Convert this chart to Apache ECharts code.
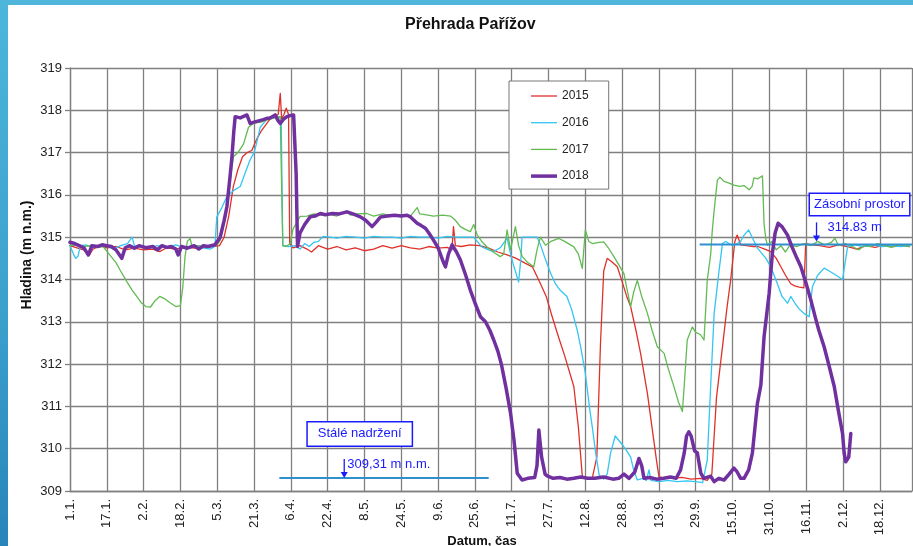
<!DOCTYPE html>
<html>
<head>
<meta charset="utf-8">
<script src="https://cdn.jsdelivr.net/npm/echarts@6/dist/echarts.min.js"></script>
<style>
html,body{margin:0;padding:0;width:913px;height:546px;overflow:hidden;}
body{background:linear-gradient(180deg,#4db6da 0%,#3ba2cd 55%,#2884b9 100%);}
#paper{position:absolute;left:8px;top:5px;width:905px;height:541px;background:#fff;}
#chart{position:absolute;left:0;top:0;width:913px;height:546px;}
</style>
</head>
<body>
<div id="paper"></div>
<div id="chart"></div>
<script>
// ---- data (x = day of year from 1.1., y = water level m n.m.) ----
const tickLabels = ['1.1.','17.1.','2.2.','18.2.','5.3.','21.3.','6.4.','22.4.','8.5.','24.5.','9.6.','25.6.','11.7.','27.7.','12.8.','28.8.','13.9.','29.9.','15.10.','31.10.','16.11.','2.12.','18.12.'];
const years = ['2015','2016','2017','2018'];

const level2015 = [[0,314.8],[3,314.75],[6,314.7],[8.7,314.6],[10,314.72],[13,314.8],[16,314.75],[20,314.78],[24,314.7],[28,314.74],[32,314.7],[36,314.72],[39,314.66],[42,314.75],[46,314.72],[50,314.78],[54,314.74],[58,314.76],[62,314.78],[65,314.8],[67,315.0],[69,315.5],[71,316.2],[73,316.6],[75,316.9],[77,317.0],[79,317.05],[81,317.3],[83,317.5],[85,317.65],[87,317.8],[89,317.85],[90.5,317.9],[91.4,318.4],[92,317.8],[93,317.9],[94,318.05],[95,317.9],[95.5,314.85],[97,314.75],[100,314.8],[103,314.72],[105,314.65],[108,314.8],[112,314.72],[116,314.78],[120,314.7],[124,314.75],[128,314.68],[132,314.72],[136,314.8],[140,314.74],[144,314.8],[148,314.75],[152,314.72],[156,314.78],[160,314.74],[164,314.76],[166,314.7],[166.7,315.25],[167.5,314.8],[170,314.78],[174,314.82],[178,314.8],[182,314.74],[186,314.65],[190,314.58],[194,314.5],[198,314.38],[201,314.3],[204.5,313.9],[207,313.6],[209.6,313.12],[212,312.7],[215,312.2],[219,311.47],[221,310.5],[222.7,309.34],[225,309.3],[227,309.3],[229,309.8],[230.6,312.5],[232,314.2],[233.5,314.5],[235.5,314.42],[237.9,314.3],[240,313.95],[242,313.6],[243.7,313.36],[246,312.8],[248,312.26],[251,311.3],[253,310.5],[255,309.7],[256,309.34],[258,309.3],[262,309.3],[266,309.32],[270,309.28],[274,309.3],[277,309.25],[279,309.4],[281,311.2],[283.6,312.4],[285.5,313.3],[287.2,314.0],[289,314.9],[290,315.05],[291.5,314.82],[294,314.8],[297,314.78],[299,314.78],[302,314.72],[304.6,314.66],[307,314.5],[309,314.3],[311,314.1],[313.3,313.9],[315,313.85],[317,313.82],[319,313.8],[319.8,314.85],[322,314.82],[326,314.8],[330,314.76],[334,314.82],[338,314.78],[342,314.72],[346,314.8],[350,314.76],[354,314.82],[358,314.78],[362,314.8],[364.7,314.78]];

const level2016 = [[0,314.8],[1.5,314.6],[2.5,314.5],[3.5,314.55],[4.5,314.8],[7,314.82],[10,314.75],[13,314.8],[16,314.78],[19,314.72],[22,314.8],[25,314.85],[27,315.0],[28,314.8],[31,314.78],[34,314.74],[38,314.8],[42,314.76],[46,314.82],[50,314.74],[54,314.8],[58,314.74],[61,314.72],[63,314.78],[63.8,315.48],[66,315.7],[68.2,315.96],[71,316.1],[74,316.2],[76,316.5],[78.3,316.83],[80,317.0],[81,317.2],[82.7,317.6],[85,317.75],[87,317.85],[89,317.82],[91,317.85],[91.8,317.75],[92.5,314.8],[95,314.78],[98,314.8],[100,314.72],[102,314.85],[104,314.78],[106,314.88],[108,314.9],[110,315.02],[113,315.0],[116,314.98],[120,315.02],[124,315.0],[128,314.98],[132,315.02],[136,315.0],[140,315.0],[144,314.98],[148,315.02],[152,315.0],[156,315.0],[160,314.98],[164,315.02],[168,315.0],[172,315.0],[175.5,315.0],[177,314.9],[179,314.77],[182,314.7],[184,314.66],[187,314.75],[189,314.9],[190,314.98],[191.5,314.6],[193,314.3],[195,313.94],[196,314.5],[196.5,315.0],[199,315.0],[203,315.0],[204.5,314.82],[206.5,314.5],[208.9,314.15],[211,313.9],[213,313.75],[216,313.6],[218,313.3],[220.5,312.8],[222,312.4],[224,311.78],[226,310.9],[227,310.52],[228.5,309.9],[230,309.38],[232,309.28],[233.5,309.4],[235,309.9],[237,310.3],[240,310.1],[242,309.95],[243.7,309.8],[245,309.5],[246.6,309.26],[249,309.3],[250.5,309.25],[251.7,309.5],[252.5,309.25],[256,309.22],[260,309.25],[264,309.22],[268,309.24],[272,309.22],[275,309.2],[277,309.73],[278.5,311.5],[280,313.2],[282,314.15],[283.6,314.85],[285,314.9],[288,314.8],[290,314.85],[291.5,314.9],[293,315.05],[295,315.17],[296.5,315.0],[298.8,314.74],[301,314.6],[302.5,314.5],[304.6,314.3],[307.5,313.9],[309.5,313.6],[311.9,313.44],[313.3,313.6],[315,313.45],[317,313.3],[319,313.2],[321.3,313.12],[322.7,313.83],[325,314.1],[327.8,314.27],[330,314.2],[333,314.1],[335.8,314.0],[338,314.77],[341,314.82],[345,314.78],[349,314.82],[353,314.78],[357,314.8],[361,314.78],[365,314.8]];

const level2017 = [[0,314.8],[3,314.82],[6,314.78],[9,314.8],[12,314.76],[14.4,314.78],[17,314.6],[20,314.4],[22,314.2],[24.7,313.95],[27,313.75],[29,313.6],[31,313.45],[33,313.36],[35,313.35],[37,313.5],[39,313.6],[41,313.55],[43.5,313.45],[46,313.36],[48,313.38],[49,313.8],[50,314.54],[51,314.9],[52.2,314.97],[53,314.78],[56,314.8],[59,314.76],[62,314.8],[64,314.82],[65.3,314.93],[68,315.56],[70,316.5],[71,316.9],[73,317.0],[75.4,317.2],[77.6,317.6],[80,317.7],[83,317.72],[86,317.78],[89,317.82],[91.4,317.85],[92.5,314.8],[94,314.78],[95.7,314.85],[97,315.2],[100,315.49],[103,315.5],[106,315.55],[109,315.52],[112,315.55],[116,315.5],[120,315.62],[122,315.52],[125,315.55],[129,315.56],[132,315.5],[136,315.55],[140,315.5],[144,315.52],[148,315.5],[150.9,315.7],[152,315.55],[155,315.53],[158,315.5],[162,315.52],[165.4,315.5],[167.5,315.4],[169.7,315.25],[172,315.18],[174,315.13],[175.5,315.3],[177,315.05],[179,314.9],[181.3,314.77],[184,314.65],[187,314.54],[188.5,314.6],[190,315.17],[191.5,314.7],[193.6,315.25],[195,314.8],[196.6,314.54],[199,314.4],[201.6,314.3],[203,314.7],[204.5,315.0],[206.7,314.81],[209,314.9],[212.5,314.97],[215,314.9],[219,314.77],[221,314.6],[222.7,314.26],[224,315.17],[225.5,314.9],[227,314.85],[230,314.88],[232,314.89],[234,314.75],[236.4,314.54],[238.5,314.35],[240.8,314.14],[242,313.8],[243.7,313.36],[245,313.7],[246.6,313.98],[248.5,313.6],[251,313.2],[253,312.8],[255.3,312.41],[258.2,312.26],[260,311.9],[262.5,311.47],[264.5,311.1],[266.2,310.88],[267,311.5],[268.3,312.57],[270.5,312.88],[272,312.75],[274,312.7],[275.6,312.57],[277,313.98],[278.5,314.6],[279.2,315.17],[280.3,315.8],[281.4,316.35],[282.5,316.42],[284.3,316.32],[286.5,316.28],[288.6,316.23],[291,316.2],[293,316.22],[295.2,316.12],[296.5,316.2],[297.3,316.4],[299,316.38],[301,316.45],[301.7,315.3],[302.5,314.95],[303.2,314.81],[305,314.9],[307,314.7],[309,314.8],[311,314.65],[313,314.82],[316,314.78],[319,314.85],[322,314.8],[325,314.9],[328,314.82],[331,314.88],[332.5,314.98],[334,314.8],[337,314.85],[340,314.78],[343,314.7],[345,314.8],[348,314.78],[351,314.85],[354,314.8],[357,314.76],[360,314.82],[363,314.8],[365,314.78]];

const level2018 = [[0,314.88],[2,314.85],[4,314.8],[6,314.75],[8,314.58],[9.5,314.8],[12,314.78],[14,314.82],[16,314.8],[18,314.78],[20,314.7],[22.5,314.5],[24,314.75],[26,314.8],[28,314.74],[30,314.8],[33,314.75],[36,314.78],[38,314.7],[40,314.8],[42,314.76],[44,314.78],[46,314.72],[47,314.58],[48.5,314.78],[51,314.74],[54,314.8],[56,314.72],[58,314.8],[60,314.78],[63,314.82],[65.3,315.0],[67,315.4],[68.2,315.72],[69.5,316.4],[70.4,316.9],[71.2,317.5],[71.8,317.85],[74,317.82],[76.9,317.89],[78.3,317.69],[80,317.72],[82,317.75],[84,317.78],[85.6,317.81],[87,317.82],[89.2,317.89],[90.5,317.75],[91.4,317.69],[93,317.8],[94.3,317.85],[96,317.88],[97.2,317.89],[98.3,316.5],[98.9,314.78],[100,315.1],[102,315.3],[104.4,315.48],[106.5,315.5],[108.8,315.56],[111,315.53],[114,315.56],[117,315.55],[120.4,315.6],[123,315.55],[126.2,315.48],[128.5,315.4],[131.3,315.25],[133,315.35],[135,315.48],[138,315.5],[141,315.52],[144,315.5],[146.5,315.52],[148,315.48],[150.9,315.33],[152.5,315.28],[154.5,315.21],[156,315.1],[158,314.93],[160,314.75],[162,314.45],[163.2,314.3],[164.5,314.6],[166.1,314.82],[168,314.65],[169.7,314.46],[172,314.1],[174,313.75],[176,313.45],[178.4,313.12],[180.6,313.0],[182.5,312.8],[184.2,312.57],[186,312.3],[187.5,312.0],[189.5,311.45],[191.5,310.84],[193,310.2],[194.4,309.42],[196.5,309.26],[199,309.3],[202,309.32],[203,309.6],[203.8,310.44],[205,309.8],[206.5,309.4],[207.4,309.36],[210,309.3],[213,309.32],[216,309.28],[219,309.3],[222,309.33],[225,309.3],[228,309.3],[232,309.33],[236,309.28],[238.5,309.3],[240.8,309.4],[243,309.3],[245.5,309.45],[247.3,309.77],[248.5,309.6],[249.5,309.3],[252,309.32],[255,309.28],[258,309.3],[261,309.33],[263.5,309.3],[265.4,309.5],[267,309.9],[268,310.3],[269,310.4],[270,310.3],[271.5,309.95],[272.7,309.9],[274.2,309.42],[275.5,309.3],[278.5,309.35],[280,309.22],[282,309.3],[284.3,309.26],[286.5,309.4],[288.6,309.54],[290,309.45],[291.5,309.3],[293,309.3],[295,309.5],[296.6,309.89],[298.8,311.07],[300.3,311.5],[301.7,312.65],[303.9,313.67],[305.3,314.62],[306.5,315.1],[307.8,315.33],[309.5,315.25],[311.9,315.05],[314,314.75],[316,314.5],[317.7,314.3],[320,313.9],[322,313.52],[324,313.1],[325.5,312.8],[327.8,312.41],[330,311.95],[332.2,311.47],[334,310.9],[335.8,310.36],[336.5,309.9],[337.2,309.69],[338.5,309.8],[339.4,310.36]];

// reference levels
const zasobniLevel = 314.83;
const zasobniSpan = [273.7, 366];
const zasobniArrowDay = 324.5;
const staleLevel = 309.31;
const staleSpan = [91, 182];
const staleArrowDay = 119.2;

const seriesColors = ['#e0302a','#33c5f3','#62ba52','#7030a0'];
const seriesWidths = [1.3, 1.3, 1.3, 3.5];
const FONT = "'Liberation Sans', Arial, sans-serif";

const chart = echarts.init(document.getElementById('chart'), null, {renderer:'canvas'});

function yearSeries(i, data, z) {
  return {
    name: years[i], type: 'line', data: data, symbol: 'none', z: z,
    lineStyle: {color: seriesColors[i], width: seriesWidths[i], cap: 'round', join: 'round'},
    itemStyle: {color: seriesColors[i]}
  };
}
function refSeries(level, span) {
  return {
    type: 'line', symbol: 'none', silent: true, z: 4,
    data: [[span[0], level], [span[1], level]],
    lineStyle: {color: '#2f8fd0', width: 2}
  };
}

chart.setOption({
  animation: false,
  backgroundColor: 'transparent',
  textStyle: {fontFamily: FONT},
  title: {
    text: 'Přehrada Pařížov', left: 400, top: 12,
    textStyle: {fontFamily: FONT, fontSize: 16, fontWeight: 'bold', color: '#111'}
  },
  grid: {left: 70, right: 1, top: 68, bottom: 55, containLabel: false},
  legend: {
    data: years.map(function (y, i) {
      return {name: y, icon: 'path://M0,0H26V' + seriesWidths[i] + 'H0Z'};
    }),
    orient: 'vertical', left: 509, top: 81,
    padding: [9, 20, 7, 22], itemGap: 14.7, itemWidth: 26, itemHeight: 14,
    backgroundColor: '#fff', borderColor: '#777', borderWidth: 1,
    textStyle: {fontFamily: FONT, fontSize: 12, color: '#222'}
  },
  xAxis: {
    type: 'value', min: 0, max: 366, interval: 16,
    axisLine: {show: true, lineStyle: {color: '#808080', width: 1.3}},
    axisTick: {show: false},
    splitLine: {show: true, lineStyle: {color: '#808080', width: 1.3}},
    axisLabel: {
      rotate: 90, margin: 8, fontSize: 13, color: '#222', fontFamily: FONT,
      showMaxLabel: true,
      formatter: function (v) {
        const i = v / 16;
        return (Number.isInteger(i) && i < tickLabels.length) ? tickLabels[i] : '';
      }
    }
  },
  yAxis: {
    type: 'value', min: 309, max: 319, interval: 1,
    axisLine: {show: true, lineStyle: {color: '#808080', width: 1.3}},
    axisTick: {show: true, length: 5, lineStyle: {color: '#808080', width: 1.3}},
    splitLine: {show: true, lineStyle: {color: '#808080', width: 1.3}},
    axisLabel: {margin: 8, fontSize: 13, color: '#222', fontFamily: FONT}
  },
  series: [
    yearSeries(0, level2015, 2),
    yearSeries(1, level2016, 2),
    yearSeries(2, level2017, 2),
    refSeries(zasobniLevel, zasobniSpan),
    refSeries(staleLevel, staleSpan),
    yearSeries(3, level2018, 5)
  ]
});

// annotations positioned from data values
const pz = chart.convertToPixel({gridIndex: 0}, [zasobniArrowDay, zasobniLevel]);
const ps = chart.convertToPixel({gridIndex: 0}, [staleArrowDay, staleLevel]);
const ANN = '#1a1aff';
function arrow(x, yTop, yTip) {
  return [
    {type: 'line', shape: {x1: x, y1: yTop, x2: x, y2: yTip - 5}, style: {stroke: ANN, lineWidth: 1.3}, z: 20},
    {type: 'polygon', shape: {points: [[x - 3.5, yTip - 6], [x + 3.5, yTip - 6], [x, yTip]]}, style: {fill: ANN}, z: 20}
  ];
}
const graphics = [
  {type: 'text', x: 27, y: 255, rotation: Math.PI / 2,
   style: {text: 'Hladina (m n.m.)', font: 'bold 14px ' + FONT, fill: '#111', align: 'center', verticalAlign: 'middle'}},
  {type: 'text', x: 482, y: 541,
   style: {text: 'Datum, čas', font: 'bold 13px ' + FONT, fill: '#111', align: 'center', verticalAlign: 'middle'}},
  {type: 'text', x: pz[0] + 43, y: pz[1] - 40, z: 20,
   style: {text: 'Zásobní prostor', font: '13px ' + FONT, fill: ANN, align: 'center', verticalAlign: 'middle',
           backgroundColor: '#fff', borderColor: ANN, borderWidth: 1.5, padding: [4, 4]}},
  {type: 'text', x: pz[0] + 11, y: pz[1] - 17, z: 20,
   style: {text: '314.83 m', font: '13px ' + FONT, fill: ANN, align: 'left', verticalAlign: 'middle'}},
  {type: 'text', x: ps[0] + 15.5, y: ps[1] - 44, z: 20,
   style: {text: 'Stálé nadržení', font: '13px ' + FONT, fill: ANN, align: 'center', verticalAlign: 'middle',
           backgroundColor: '#fff', borderColor: ANN, borderWidth: 1.5, padding: [5, 10]}},
  {type: 'text', x: ps[0] + 3, y: ps[1] - 13, z: 20,
   style: {text: '309,31 m n.m.', font: '13px ' + FONT, fill: ANN, align: 'left', verticalAlign: 'middle'}}
].concat(arrow(pz[0], pz[1] - 22, pz[1] - 3), arrow(ps[0], ps[1] - 19, ps[1]));

chart.setOption({graphic: graphics});
</script>
</body>
</html>
